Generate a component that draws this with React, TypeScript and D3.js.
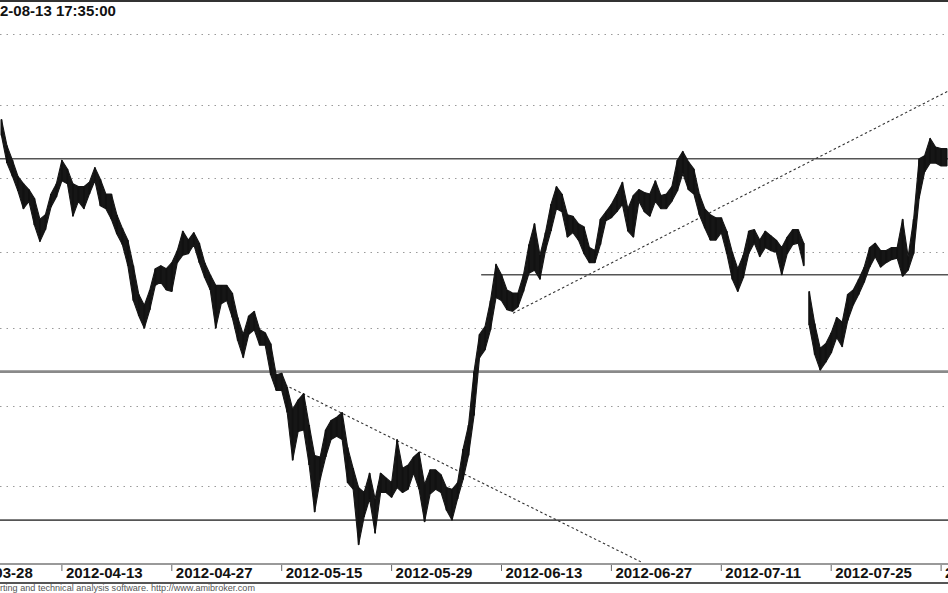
import React from "react";
import * as d3 from "d3";

// ---- data ----
const TITLE = "2012-08-13 17:35:00";
const FOOTER = "rting and technical analysis software. http://www.amibroker.com";

// tick labels every 10 sessions (2 bars per session)
const DATE_LABELS = [
  "2012-03-28", "2012-04-13", "2012-04-27", "2012-05-15", "2012-05-29",
  "2012-06-13", "2012-06-27", "2012-07-11", "2012-07-25", "2012-08-08",
];
const LABEL_BARS = [0, 20, 40, 60, 80, 100, 120, 140, 160, 180];

const GRID_PRICES = [2000, 2050, 2100, 2150, 2200, 2250, 2300];

// first bar index of the arrays below
const BAR_START = 9;
// first bar after the opening gap (drawn as a separate piece)
const GAP_BAR = 156;

const HIGH = [
  2240, 2222, 2212, 2201, 2196, 2192, 2186, 2172, 2175, 2189,
  2196, 2212, 2206, 2196, 2194, 2194, 2197, 2207, 2199, 2189,
  2189, 2175, 2166, 2158, 2141, 2122, 2115, 2125, 2139, 2141,
  2139, 2143, 2151, 2164, 2158, 2163, 2156, 2143, 2135, 2128,
  2128, 2128, 2123, 2107, 2096, 2108, 2111, 2099, 2097, 2090,
  2070, 2071, 2062, 2048, 2054, 2058, 2038, 2019, 2018, 2035,
  2041, 2043, 2046, 2024, 2011, 1999, 1996, 2008, 1992, 2008,
  2005, 2002, 2029, 2011, 2013, 2018, 2021, 2001, 2010, 2010,
  2007, 1999, 1998, 2002, 2023, 2038, 2072, 2096, 2101, 2118,
  2142, 2135, 2125, 2123, 2123, 2135, 2155, 2169, 2148, 2163,
  2182, 2194, 2189, 2175, 2174, 2169, 2167, 2153, 2151, 2172,
  2177, 2182, 2189, 2197, 2179, 2188, 2192, 2190, 2189, 2198,
  2188, 2189, 2194, 2212, 2218, 2211, 2206, 2189, 2179, 2175,
  2173, 2173, 2164, 2150, 2139, 2148, 2164, 2165, 2158, 2164,
  2161, 2158, 2153, 2160, 2165, 2165, 2156,
  2124, 2103, 2087, 2090, 2097, 2107, 2104, 2122, 2125, 2132,
  2140, 2153, 2156, 2151, 2151, 2153, 2153, 2172, 2147, 2172,
  2213, 2215, 2227, 2221, 2220, 2220,
];

const LOW = [
  2229, 2210, 2201, 2191, 2179, 2184, 2168, 2157, 2165, 2180,
  2187, 2198, 2196, 2174, 2184, 2179, 2189, 2198, 2181, 2179,
  2172, 2162, 2155, 2141, 2118, 2108, 2100, 2112, 2128, 2130,
  2125, 2124, 2143, 2148, 2149, 2155, 2143, 2133, 2125, 2100,
  2116, 2118, 2107, 2092, 2081, 2096, 2099, 2089, 2089, 2070,
  2060, 2060, 2046, 2016, 2034, 2035, 2013, 1984, 2004, 2018,
  2029, 2031, 2029, 2002, 1998, 1964, 1981, 1992, 1971, 1996,
  1996, 1993, 1999, 1996, 1998, 2008, 1998, 1978, 1995, 1998,
  1996, 1985, 1979, 1992, 2004, 2019, 2044, 2081, 2086, 2099,
  2120, 2118, 2112, 2111, 2114, 2124, 2136, 2138, 2132, 2151,
  2164, 2179, 2177, 2160, 2163, 2158, 2149, 2143, 2143, 2155,
  2171, 2173, 2177, 2182, 2164, 2160, 2184, 2177, 2174, 2184,
  2179, 2179, 2184, 2191, 2203, 2192, 2189, 2175, 2166, 2158,
  2158, 2163, 2149, 2132, 2124, 2133, 2149, 2156, 2147, 2153,
  2151, 2150, 2135, 2149, 2155, 2156, 2141,
  2102, 2083, 2073, 2078, 2084, 2094, 2088, 2105, 2115, 2122,
  2130, 2140, 2147, 2140, 2143, 2145, 2146, 2134, 2138, 2149,
  2186, 2204, 2210, 2210, 2208, 2208,
];

// horizontal support / resistance lines
const LEVEL_PRICES = [2213, 2135, 2072, 1979];
const LEVEL_FROM_BAR = [-10, 96.3, -10, -10];

// dotted trend lines: [bar, price] pairs
const TREND_A = [[60.6, 2063.5], [125.75, 1953]];
const TREND_B = [[102.1, 2109.8], [181.25, 2259.7]];

const W = 948;
const H = 593;
const AXIS_TOP = 564;

export default function App() {
  const x = d3.scaleLinear().domain([0, 180]).range([-48, 941.1]);
  const y = d3.scaleLog().domain([2000, 2300]).range([486, 34]);

  const bars = HIGH.map((h, i) => ({ b: BAR_START + i, h, l: LOW[i] }));
  const seg1 = bars.filter((d) => d.b < GAP_BAR);
  const seg2 = bars.filter((d) => d.b >= GAP_BAR);

  const area = d3
    .area<{ b: number; h: number; l: number }>()
    .x((d) => x(d.b))
    .y0((d) => y(d.l))
    .y1((d) => y(d.h))
    .curve(d3.curveLinear);

  const trendLine = d3
    .line<number[]>()
    .x((d) => x(d[0]))
    .y((d) => y(d[1]));

  const levelStyles = [
    { stroke: "#555", w: 1.6 },
    { stroke: "#555", w: 1.6 },
    { stroke: "#8a8a8a", w: 2.6 },
    { stroke: "#555", w: 1.6 },
  ];

  return (
    <svg
      width={W}
      height={H}
      style={{ position: "absolute", left: 0, top: 0, display: "block" }}
      fontFamily="'Liberation Sans', Arial, sans-serif"
    >
      <rect x={0} y={0} width={W} height={H} fill="#fff" />
      <defs>
        <clipPath id="plot">
          <rect x={0} y={0} width={W} height={AXIS_TOP} />
        </clipPath>
      </defs>

      {/* top border */}
      <line x1={0} x2={W} y1={1} y2={1} stroke="#333" strokeWidth={2} />

      {/* grid */}
      {GRID_PRICES.map((p) => (
        <line
          key={p}
          x1={0}
          x2={W}
          y1={Math.round(y(p)) + 0.5}
          y2={Math.round(y(p)) + 0.5}
          stroke="#9a9a9a"
          strokeWidth={1}
          strokeDasharray="1.5 5"
        />
      ))}

      {/* horizontal levels */}
      {LEVEL_PRICES.map((p, i) => (
        <line
          key={p}
          x1={Math.max(0, x(LEVEL_FROM_BAR[i]))}
          x2={W}
          y1={y(p)}
          y2={y(p)}
          stroke={levelStyles[i].stroke}
          strokeWidth={levelStyles[i].w}
        />
      ))}

      <g clipPath="url(#plot)">
        {/* trend lines */}
        {[TREND_A, TREND_B].map((t, i) => (
          <path
            key={i}
            d={trendLine(t) || ""}
            fill="none"
            stroke="#333"
            strokeWidth={1.1}
            strokeDasharray="2.5 2.5"
          />
        ))}

        {/* price bars */}
        {[seg1, seg2].map((s, i) => (
          <path
            key={i}
            d={area(s) || ""}
            fill="#161616"
            stroke="#161616"
            strokeWidth={1.1}
            strokeLinejoin="round"
          />
        ))}
        {bars.map((d) => (
          <line
            key={d.b}
            x1={x(d.b)}
            x2={x(d.b)}
            y1={y(d.h)}
            y2={y(d.l)}
            stroke="#111"
            strokeWidth={1.8}
          />
        ))}
      </g>

      {/* title */}
      <text x={-25} y={16} fontSize={15} fontWeight="bold" fill="#111">
        {TITLE}
      </text>

      {/* x axis */}
      <line x1={0} x2={W} y1={AXIS_TOP} y2={AXIS_TOP} stroke="#777" strokeWidth={1.5} />
      <line x1={0} x2={W} y1={583} y2={583} stroke="#555" strokeWidth={2.2} />
      {DATE_LABELS.map((lab, i) => {
        const tx = x(LABEL_BARS[i]);
        return (
          <g key={lab}>
            <line x1={tx} x2={tx} y1={565} y2={571} stroke="#666" strokeWidth={1} />
            <text x={tx + 4} y={578} fontSize={15} fontWeight="bold" fill="#111">
              {lab}
            </text>
          </g>
        );
      })}

      {/* footer */}
      <text x={0} y={591} fontSize={9} fill="#555" textLength={255} lengthAdjust="spacingAndGlyphs">
        {FOOTER}
      </text>
    </svg>
  );
}
